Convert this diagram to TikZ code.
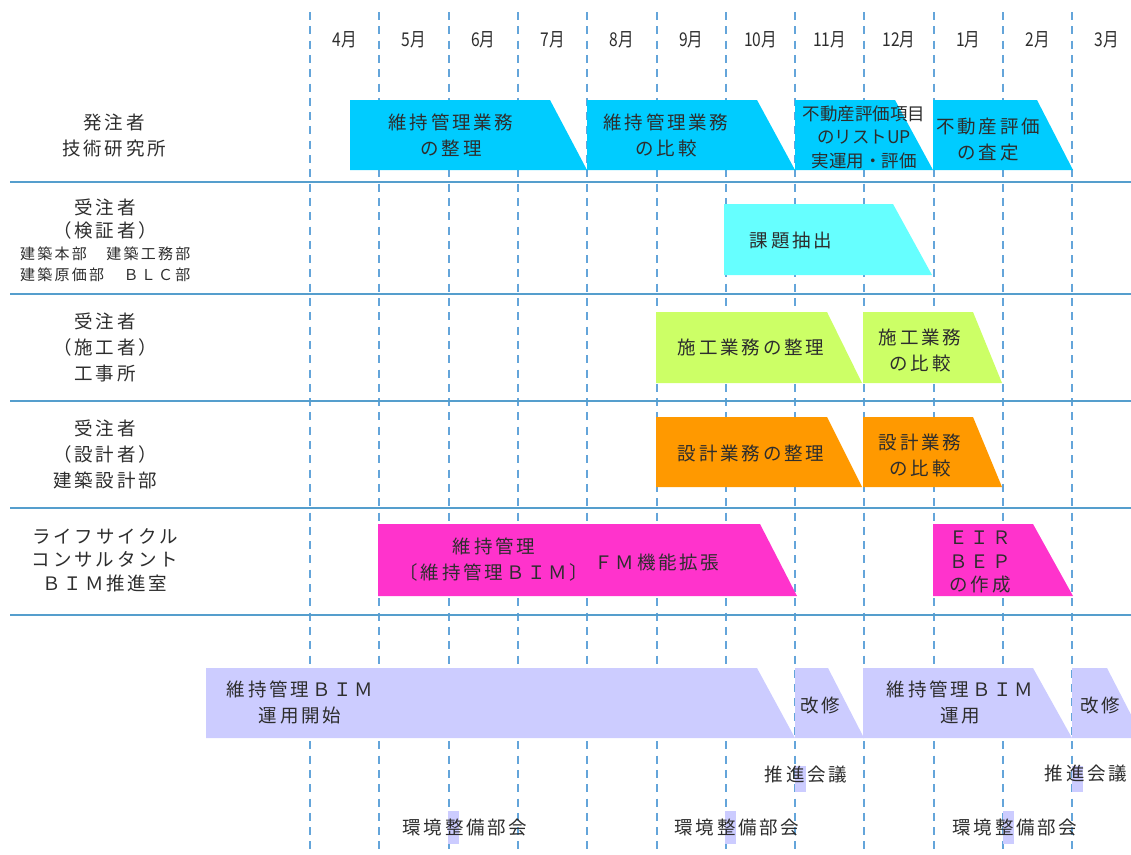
\documentclass[tikz,border=0pt]{standalone}
\usepackage{fontspec}
\setmainfont{Noto Sans CJK JP}
\newfontfamily\jpf[LetterSpace=15]{Noto Sans CJK JP}
\newfontfamily\jpn{Noto Sans CJK JP}
\definecolor{txt}{RGB}{45,45,45}
\definecolor{gridblue}{RGB}{100,165,218}
\definecolor{hblue}{RGB}{85,158,205}
\definecolor{cbar}{RGB}{0,204,255}
\definecolor{lcbar}{RGB}{102,255,255}
\definecolor{gbarc}{RGB}{204,255,102}
\definecolor{obar}{RGB}{255,153,0}
\definecolor{mbar}{RGB}{255,51,204}
\definecolor{lbar}{RGB}{204,204,255}
\newcommand\gbar[6]{\fill[#1] (#2,#3) -- (#5,#3) -- (#6,#4) -- (#2,#4) -- cycle;}
\tikzset{
  vline/.style={gridblue, line width=2pt, dash pattern=on 8pt off 6.3pt},
  hline/.style={hblue, line width=1.5pt},
  month/.style={font=\jpn\fontsize{19}{22}\selectfont, text=txt, inner sep=0},
  lbl/.style={font=\jpf\fontsize{18.5}{26}\selectfont, text=txt, inner sep=0, align=center},
  lbltight/.style={font=\jpf\fontsize{18.5}{23.5}\selectfont, text=txt, inner sep=0, align=center},
  small/.style={font=\jpf\fontsize{15}{21}\selectfont, text=txt, inner sep=0, align=left, anchor=west},
  meetmark/.style={fill=lbar}
}
\begin{document}
\begin{tikzpicture}[x=1pt,y=-1pt]
\useasboundingbox (0,0) rectangle (1131,854);
\clip (0,0) rectangle (1131,854);
% vertical dashed month boundaries
\foreach \i in {0,...,11} \draw[vline] ({310+69.3*\i},12) -- ({310+69.3*\i},854);
% month labels
\foreach \m [count=\i from 0] in {4,5,6,7,8,9,10,11,12,1,2,3}
  \node[month] (m\i) at ({344.65+69.3*\i},40) {\scalebox{0.82}[1]{{\m}月}};
% row separators
\foreach \y in {182,294,401,508,615} \draw[hline] (10,\y) -- (1131,\y);
% row labels
\node[lbl] (r1) at (114,135) {発注者\\技術研究所};
\node[lbltight] (r2a) at (105,219) {受注者\\（検証者）};
\node[small] (r2b) at (20,264) {建築本部　建築工務部\\建築原価部　ＢＬＣ部};
\node[lbl] (r3) at (105,347) {受注者\\（施工者）\\工事所};
\node[lbl] (r4) at (105,454) {受注者\\（設計者）\\建築設計部};
\node[lbltight] (r5) at (105,560) {ライフサイクル\\コンサルタント\\ＢＩＭ推進室};
% row 1 bars
\gbar{cbar}{350}{100}{170}{550}{587}
\gbar{cbar}{587}{100}{170}{757}{795}
\gbar{cbar}{795}{100}{170}{895}{933}
\gbar{cbar}{933}{100}{170}{1037}{1073}
\node[lbl] (t1) at (451,135) {維持管理業務\\の整理};
\node[lbl] (t2) at (666,135) {維持管理業務\\の比較};
\node[font=\jpn\fontsize{17.5}{23.5}\selectfont, text=txt, inner sep=0, align=center] (t3) at (864,137) {不動産評価項目\\のリストUP\\実運用・評価};
\node[lbl] (t4) at (988,140) {不動産評価\\の査定};
% row 2
\gbar{lcbar}{724}{204}{275}{893}{932}
\node[lbl] (t5) at (791,240) {課題抽出};
% row 3
\gbar{gbarc}{656}{312}{383}{827}{862}
\gbar{gbarc}{863}{312}{383}{973}{1002}
\node[lbl] (t6) at (751,347) {施工業務の整理};
\node[lbl] (t7) at (920,350) {施工業務\\の比較};
% row 4
\gbar{obar}{656}{417}{487}{827}{862}
\gbar{obar}{863}{417}{487}{973}{1002}
\node[lbl] (t8) at (751,453) {設計業務の整理};
\node[lbl] (t9) at (920,455) {設計業務\\の比較};
% row 5
\gbar{mbar}{378}{524}{596}{760}{797}
\gbar{mbar}{933}{524}{596}{1033}{1073}
\node[lbl] (t10) at (494,560) {維持管理\\〔維持管理ＢＩＭ〕};
\node[lbl] (t11) at (657,562) {ＦＭ機能拡張};
\node[lbltight] (t12) at (980,562) {ＥＩＲ\\ＢＥＰ\\の作成};
% row 6
\gbar{lbar}{206}{668}{738}{757}{795}
\gbar{lbar}{795}{668}{738}{828}{864}
\gbar{lbar}{863}{668}{738}{1033}{1072}
\gbar{lbar}{1072}{668}{738}{1107}{1143}
\node[lbl] (t13) at (300,702) {維持管理ＢＩＭ\\運用開始};
\node[lbl] (t14) at (820,705) {改修};
\node[lbl] (t15) at (960,702) {維持管理ＢＩＭ\\運用};
\node[lbl] (t16) at (1100,705) {改修};
% meeting marks
\fill[meetmark] (795,766) rectangle (806,792);
\fill[meetmark] (1072,766) rectangle (1083,792);
\fill[meetmark] (448,811) rectangle (459,844);
\fill[meetmark] (725,811) rectangle (736,844);
\fill[meetmark] (1003,811) rectangle (1014,844);
\node[lbl] (k1) at (806,775) {推進会議};
\node[lbl] (k2) at (1086,774) {推進会議};
\node[lbl] (s1) at (465,827) {環境整備部会};
\node[lbl] (s2) at (737,827) {環境整備部会};
\node[lbl] (s3) at (1015,827) {環境整備部会};
\end{tikzpicture}
\end{document}
